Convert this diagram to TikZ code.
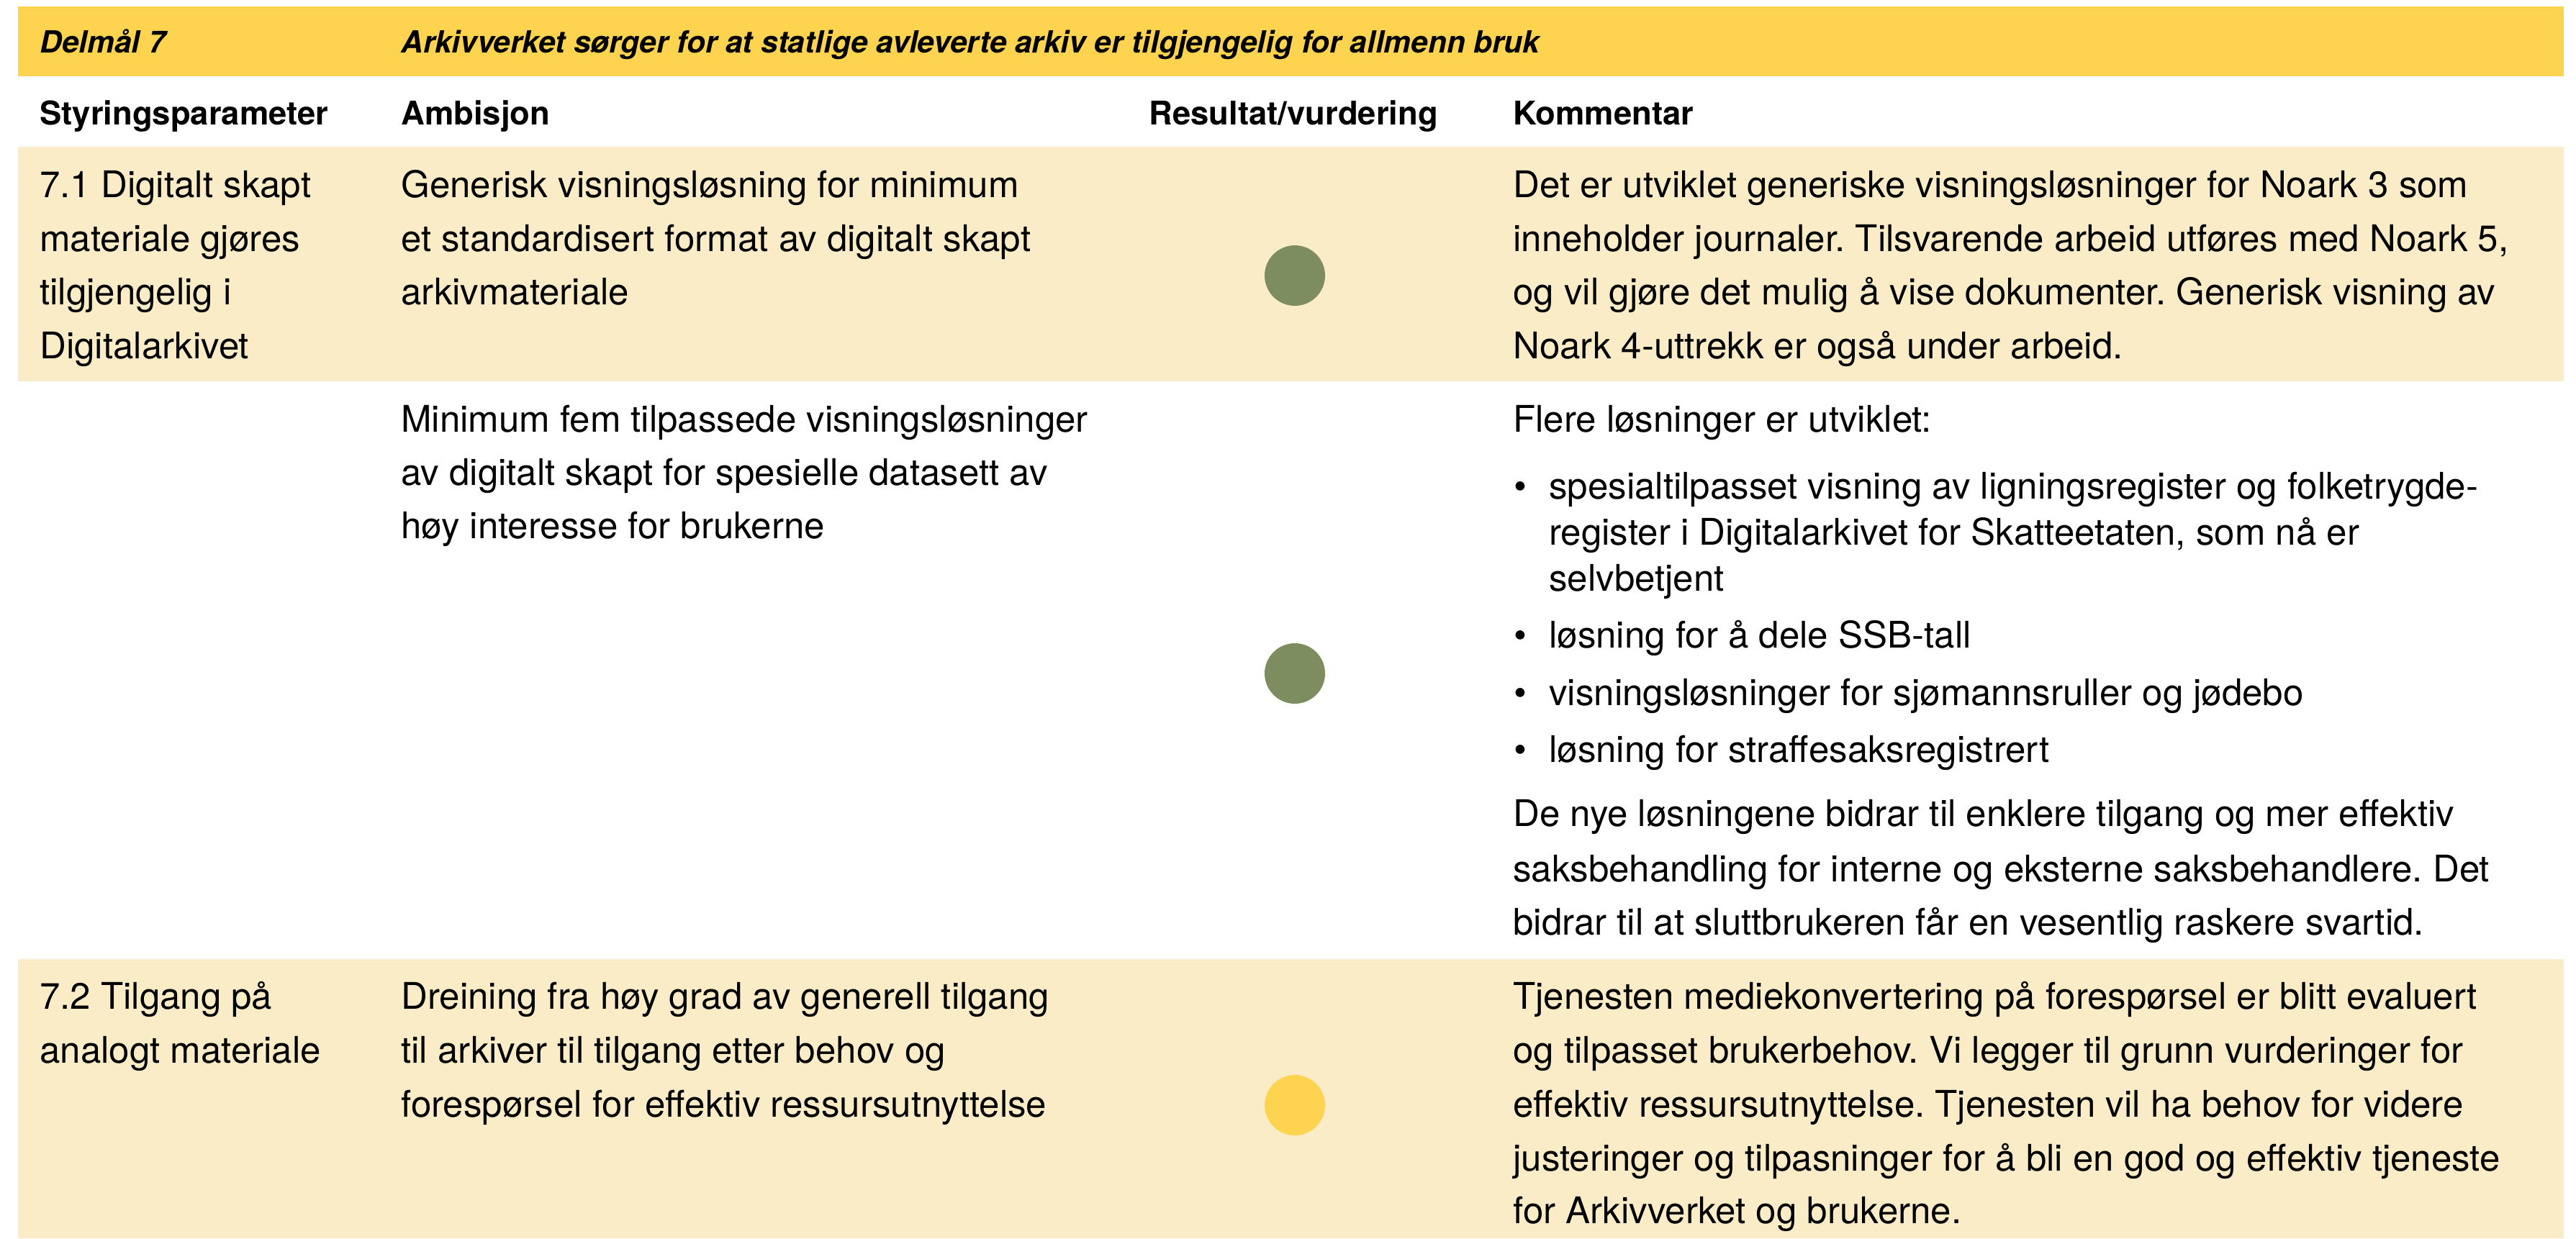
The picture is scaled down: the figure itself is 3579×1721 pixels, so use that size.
\documentclass[tikz,border=0pt]{standalone}
\usepackage{fontspec}
\setmainfont{TeX Gyre Heros}
\definecolor{hdr}{HTML}{FED34F}
\definecolor{band}{HTML}{FBECC8}
\definecolor{grn}{HTML}{7D8D5F}
\frenchspacing
\begin{document}
\begin{tikzpicture}[x=0.5pt,y=-0.5pt,
  body/.style={anchor=base west,inner sep=0pt,font=\fontsize{25.5pt}{30pt}\selectfont},
  hd/.style={anchor=base west,inner sep=0pt,font=\fontsize{22.7pt}{27pt}\selectfont\bfseries},
  ttl/.style={anchor=base west,inner sep=0pt,font=\fontsize{21.2pt}{25pt}\selectfont\bfseries\itshape},
  dot/.style={circle,inner sep=0pt,minimum size=42pt}]
\useasboundingbox (0,0) rectangle (3579,1721);
\fill[white] (0,0) rectangle (3579,1721);
\fill[hdr] (25,9) rectangle (3562,106);
\fill[band] (25,204) rectangle (3562,530);
\fill[band] (25,1333) rectangle (3562,1721);
% title row
\node[ttl] (t1) at (55,73) {Delmål 7};
\node[ttl] (t2) at (557,73) {Arkivverket sørger for at statlige avleverte arkiv er tilgjengelig for allmenn bruk};
% column headers
\node[hd] (h1) at (55,173) {Styringsparameter};
\node[hd] (h2) at (557,173) {Ambisjon};
\node[hd] (h3) at (1596,173) {Resultat/vurdering};
\node[hd] (h4) at (2102,173) {Kommentar};
% row 1
\node[body] (ra1) at (55,274) {7.1 Digitalt skapt};
\node[body] (ra2) at (55,349) {materiale gjøres};
\node[body] (ra3) at (55,423) {tilgjengelig i};
\node[body] (ra4) at (55,498) {Digitalarkivet};
\node[body] (rb1) at (557,274) {Generisk visningsløsning for minimum};
\node[body] (rb2) at (557,349) {et standardisert format av digitalt skapt};
\node[body] (rb3) at (557,423) {arkivmateriale};
\node[dot,fill=grn] (c1) at (1799,383) {};
\node[body] (rd1) at (2102,274) {Det er utviklet generiske visningsløsninger for Noark 3 som};
\node[body] (rd2) at (2102,349) {inneholder journaler. Tilsvarende arbeid utføres med Noark 5,};
\node[body] (rd3) at (2102,423) {og vil gjøre det mulig å vise dokumenter. Generisk visning av};
\node[body] (rd4) at (2102,498) {Noark 4-uttrekk er også under arbeid.};
% row 2
\node[body] (sb1) at (557,600) {Minimum fem tilpassede visningsløsninger};
\node[body] (sb2) at (557,674) {av digitalt skapt for spesielle datasett av};
\node[body] (sb3) at (557,748) {høy interesse for brukerne};
\node[dot,fill=grn] (c2) at (1799,936) {};
\node[body] (sd0) at (2102,600) {Flere løsninger er utviklet:};
\node[body] (bu1) at (2103,693) {•};
\node[body] (sd1) at (2152,693) {spesialtilpasset visning av ligningsregister og folketrygde-};
\node[body] (sd2) at (2152,757) {register i Digitalarkivet for Skatteetaten, som nå er};
\node[body] (sd3) at (2152,821) {selvbetjent};
\node[body] (bu2) at (2103,900) {•};
\node[body] (sd4) at (2152,900) {løsning for å dele SSB-tall};
\node[body] (bu3) at (2103,980) {•};
\node[body] (sd5) at (2152,980) {visningsløsninger for sjømannsruller og jødebo};
\node[body] (bu4) at (2103,1059) {•};
\node[body] (sd6) at (2152,1059) {løsning for straffesaksregistrert};
\node[body] (sd7) at (2102,1148) {De nye løsningene bidrar til enklere tilgang og mer effektiv};
\node[body] (sd8) at (2102,1225) {saksbehandling for interne og eksterne saksbehandlere. Det};
\node[body] (sd9) at (2102,1299) {bidrar til at sluttbrukeren får en vesentlig raskere svartid.};
% row 3
\node[body] (ta1) at (55,1402) {7.2 Tilgang på};
\node[body] (ta2) at (55,1477) {analogt materiale};
\node[body] (tb1) at (557,1402) {Dreining fra høy grad av generell tilgang};
\node[body] (tb2) at (557,1477) {til arkiver til tilgang etter behov og};
\node[body] (tb3) at (557,1552) {forespørsel for effektiv ressursutnyttelse};
\node[dot,fill=hdr] (c3) at (1799,1536) {};
\node[body] (td1) at (2102,1402) {Tjenesten mediekonvertering på forespørsel er blitt evaluert};
\node[body] (td2) at (2102,1477) {og tilpasset brukerbehov. Vi legger til grunn vurderinger for};
\node[body] (td3) at (2102,1552) {effektiv ressursutnyttelse. Tjenesten vil ha behov for videre};
\node[body] (td4) at (2102,1627) {justeringer og tilpasninger for å bli en god og effektiv tjeneste};
\node[body] (td5) at (2102,1700) {for Arkivverket og brukerne.};
\end{tikzpicture}
\end{document}
